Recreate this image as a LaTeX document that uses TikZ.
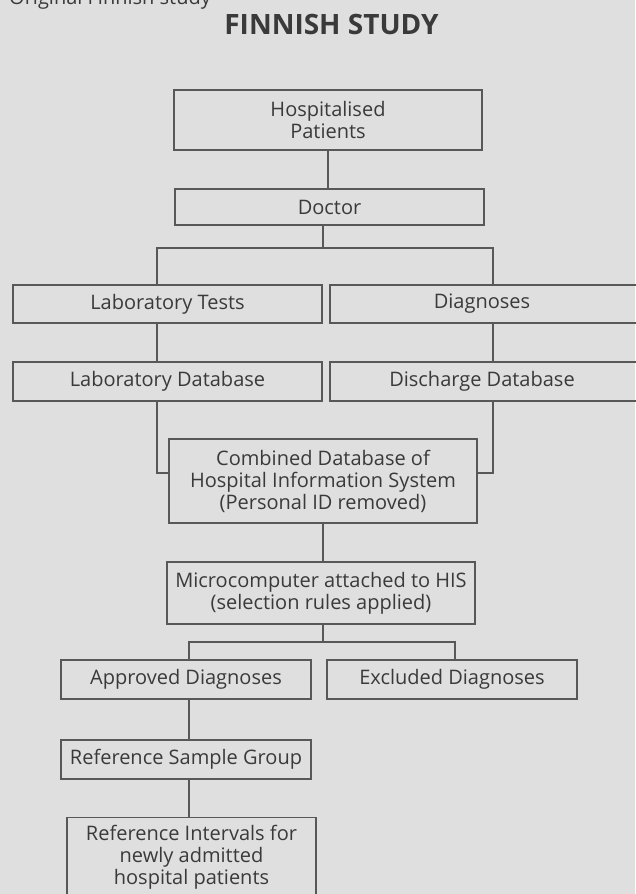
\documentclass[tikz,border=0pt]{standalone}
\usepackage{fontspec}
\setmainfont{Open Sans}
\usepackage{tikz}
\usetikzlibrary{positioning}
\definecolor{mybg}{RGB}{223,223,223}
\definecolor{myline}{RGB}{88,88,88}
\definecolor{mytext}{RGB}{58,58,58}
\tikzset{
  box/.style={rectangle, draw=myline, text=mytext, align=center,
    font=\fontsize{20}{22}\selectfont, inner sep=0pt, line width=1.3pt},
  wbox/.style={box, minimum width=308pt},
  sbox/.style={box, minimum width=250pt, minimum height=39pt},
  link/.style={line width=1.3pt, color=myline}
}

\begin{document}
\begin{tikzpicture}[x=1pt, y=-1pt]
  \fill[mybg] (0,0) rectangle (635,894);
  \useasboundingbox (0,0) rectangle (635,894);
  \node[anchor=base west, inner sep=0pt, text=mytext, font=\fontsize{20}{22}\selectfont] (orig) at (9,5) {Original Finnish study};
  \node[anchor=base, inner sep=0pt, text=mytext, font=\fontsize{28}{32}\selectfont\bfseries] (title) at (331.5,34) {FINNISH STUDY};

  \node[wbox, minimum height=60pt] (hosp) at (328,120) {Hospitalised\\Patients};
  \node[wbox, minimum height=36pt, minimum width=309pt] (doctor) at (329.5,207) {Doctor};
  \node[wbox, minimum height=38pt, minimum width=309pt] (labtests) at (167.5,304) {Laboratory Tests};
  \node[wbox, minimum height=38pt, minimum width=316pt, right=6.7pt of labtests] (diag) {Diagnoses\hspace*{12pt}};
  \node[wbox, minimum height=39pt, minimum width=309pt] (labdb) at (167.5,381.5) {Laboratory Database};
  \node[wbox, minimum height=39pt, minimum width=316pt, right=6.7pt of labdb] (dischdb) {Discharge Database\hspace*{12pt}};
  \node[wbox, minimum height=84pt] (combined) at (323,481) {Combined Database of\\Hospital Information System\\(Personal ID removed)};
  \node[wbox, minimum height=62pt] (micro) at (321,593) {Microcomputer attached to HIS\\(selection rules applied)};
  \node[sbox] (approved) at (186,679.5) {Approved Diagnoses};
  \node[sbox, right=14.7pt of approved] (excluded) {Excluded Diagnoses};
  \node[sbox, below=39.7pt of approved] (refsample) {Reference Sample Group};
  \node[box, minimum width=249pt, anchor=north, inner ysep=8pt] (refint) at (191.5,817) {Reference Intervals for\\newly admitted\\hospital patients};

  % connectors
  \coordinate (fork1) at (323,248);
  \coordinate (join) at (323,473);
  \coordinate (fork2) at (323,642);
  \draw[link] (hosp.south) -- (hosp.south |- doctor.north);
  \draw[link] (fork1 |- doctor.south) -- (fork1);
  \draw[link] ([xshift=-10.5pt]labtests.north) |- (fork1) -| ([xshift=5pt]diag.north);
  \draw[link] ([xshift=-10.5pt]labtests.south) -- ([xshift=-10.5pt]labdb.north);
  \draw[link] ([xshift=5pt]diag.south) -- ([xshift=5pt]dischdb.north);
  \draw[link] ([xshift=-10.5pt]labdb.south) |- (combined.west |- join);
  \draw[link] ([xshift=5pt]dischdb.south) |- (combined.east |- join);
  \draw[link] (combined.south) -- (combined.south |- micro.north);
  \draw[link] (fork2 |- micro.south) -- (fork2);
  \draw[link] ([xshift=3pt]approved.north) |- (fork2) -| ([xshift=3pt]excluded.north);
  \draw[link] ([xshift=3pt]approved.south) -- ([xshift=3pt]refsample.north);
  \draw[link] ([xshift=3pt]refsample.south) -- ([xshift=3pt]refsample.south |- refint.north);
\end{tikzpicture}
\end{document}
